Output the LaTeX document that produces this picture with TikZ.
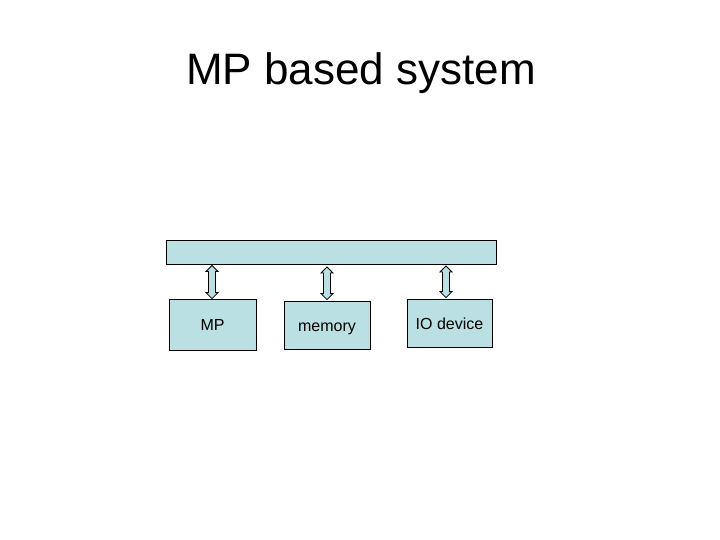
\documentclass[tikz,border=0pt]{standalone}
\usepackage{fontspec}
\setmainfont{Liberation Sans}
\usetikzlibrary{calc}
\definecolor{boxfill}{HTML}{BBE0E3}
% hollow block arrow with two heads, from #1 (top) to #2 (bottom)
\newcommand{\busarrow}[2]{%
  \draw[arrowline] let \p1=(#1), \p2=(#2) in
    (\x1, \y1) -- (\x1+6pt, \y1-6pt) -- (\x1+3.5pt, \y1-6pt) -- (\x1+3.5pt, \y2+6pt)
    -- (\x1+6pt, \y2+6pt) -- (\x1, \y2) -- (\x1-6pt, \y2+6pt) -- (\x1-3.5pt, \y2+6pt)
    -- (\x1-3.5pt, \y1-6pt) -- (\x1-6pt, \y1-6pt) -- cycle;}
\begin{document}
\begin{tikzpicture}[
    x=1pt, y=-1pt,
    unitbox/.style={rectangle, draw=black, line width=0.8pt, fill=boxfill, inner sep=0pt, font=\fontsize{16}{19}\selectfont, text height=12.5pt, text depth=0pt},
    arrowline/.style={draw=black, line width=0.8pt, fill=boxfill, line join=miter}
]
\useasboundingbox (0, 0) rectangle (720, 540);
\node[anchor=base, font=\fontsize{44}{52}\selectfont](title) at (361, 85) {MP based system};

\node[unitbox, minimum width=330pt, minimum height=24pt](bus) at (331, 252) {};

\node[unitbox, minimum width=87pt, minimum height=51pt](mp) at (212.5, 324.5) {MP};
\node[unitbox, minimum width=86pt, minimum height=48pt](mem) at (327, 325) {memory};
\node[unitbox, minimum width=85pt, minimum height=48pt](io) at (449.5, 323) {IO device};

\coordinate (a1top) at (212, 265.5);
\coordinate (a2top) at (327, 267);
\coordinate (a3top) at (446, 266);
\coordinate (a1bot) at (a1top |- mp.north);
\coordinate (a2bot) at ($(a2top |- mem.north) + (0, -1)$);
\coordinate (a3bot) at ($(a3top |- io.north) + (0, -1)$);

\busarrow{a1top}{a1bot}
\busarrow{a2top}{a2bot}
\busarrow{a3top}{a3bot}
\end{tikzpicture}
\end{document}
